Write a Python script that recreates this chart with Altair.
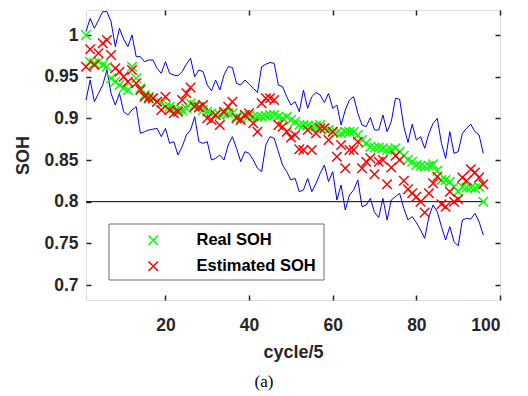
import altair as alt
import pandas as pd

# ---------------- data ----------------
cycles = list(range(1, 97))

upper_bound = [
    1.004, 1.020, 1.008, 1.018, 1.028, 1.028, 1.016, 0.986, 1.008, 0.995,
    0.986, 1.000, 0.974, 0.974, 0.968, 0.970, 0.970, 0.960, 0.954, 0.968,
    0.954, 0.952, 0.951, 0.956, 0.965, 0.972, 0.950, 0.958, 0.956, 0.940,
    0.933, 0.946, 0.934, 0.952, 0.962, 0.961, 0.942, 0.940, 0.946, 0.941,
    0.936, 0.931, 0.962, 0.965, 0.967, 0.966, 0.940, 0.938, 0.926, 0.916,
    0.920, 0.908, 0.934, 0.912, 0.926, 0.931, 0.928, 0.919, 0.930, 0.912,
    0.916, 0.892, 0.910, 0.922, 0.926, 0.906, 0.892, 0.890, 0.901, 0.886,
    0.886, 0.904, 0.884, 0.896, 0.924, 0.923, 0.890, 0.871, 0.893, 0.874,
    0.878, 0.864, 0.882, 0.894, 0.900, 0.870, 0.852, 0.884, 0.858, 0.860,
    0.882, 0.888, 0.893, 0.884, 0.880, 0.858,
]

lower_bound = [
    0.922, 0.946, 0.920, 0.930, 0.940, 0.958, 0.930, 0.916, 0.930, 0.908,
    0.904, 0.910, 0.914, 0.882, 0.884, 0.886, 0.887, 0.888, 0.878, 0.888,
    0.870, 0.872, 0.856, 0.866, 0.880, 0.886, 0.902, 0.872, 0.870, 0.872,
    0.850, 0.852, 0.856, 0.850, 0.868, 0.878, 0.864, 0.848, 0.860, 0.858,
    0.850, 0.840, 0.836, 0.868, 0.878, 0.876, 0.860, 0.844, 0.836, 0.826,
    0.828, 0.812, 0.814, 0.828, 0.812, 0.822, 0.834, 0.844, 0.824, 0.836,
    0.802, 0.820, 0.790, 0.808, 0.814, 0.826, 0.794, 0.796, 0.804, 0.787,
    0.781, 0.804, 0.778, 0.802, 0.806, 0.810, 0.792, 0.778, 0.782, 0.775,
    0.766, 0.756, 0.782, 0.796, 0.788, 0.770, 0.754, 0.770, 0.752, 0.747,
    0.778, 0.780, 0.779, 0.786, 0.776, 0.760,
]

real_soh = [
    1.000, 0.968, 0.966, 0.968, 0.964, 0.962, 0.948, 0.944, 0.940, 0.936,
    0.934, 0.962, 0.948, 0.936, 0.928, 0.926, 0.924, 0.920, 0.918, 0.914,
    0.914, 0.912, 0.910, 0.910, 0.912, 0.918, 0.916, 0.914, 0.910, 0.908,
    0.906, 0.904, 0.904, 0.906, 0.906, 0.906, 0.902, 0.900, 0.904, 0.903,
    0.902, 0.902, 0.902, 0.903, 0.904, 0.904, 0.902, 0.900, 0.902, 0.898,
    0.896, 0.892, 0.892, 0.891, 0.890, 0.891, 0.892, 0.888, 0.886, 0.884,
    0.883, 0.882, 0.884, 0.884, 0.884, 0.880, 0.874, 0.870, 0.866, 0.865,
    0.865, 0.864, 0.862, 0.862, 0.864, 0.860, 0.855, 0.850, 0.848, 0.844,
    0.843, 0.842, 0.843, 0.845, 0.837, 0.826, 0.826, 0.824, 0.818, 0.812,
    0.818, 0.817, 0.817, 0.816, 0.818, 0.800,
]

est_soh = [
    0.962, 0.983, 0.964, 0.978, 0.990, 0.994, 0.976, 0.960, 0.956, 0.950,
    0.944, 0.958, 0.942, 0.934, 0.926, 0.924, 0.924, 0.920, 0.910, 0.926,
    0.910, 0.906, 0.908, 0.922, 0.930, 0.937, 0.914, 0.913, 0.916, 0.900,
    0.898, 0.904, 0.892, 0.908, 0.914, 0.920, 0.900, 0.898, 0.904, 0.906,
    0.894, 0.884, 0.918, 0.924, 0.924, 0.922, 0.892, 0.890, 0.884, 0.877,
    0.880, 0.863, 0.862, 0.886, 0.862, 0.882, 0.888, 0.888, 0.874, 0.884,
    0.854, 0.868, 0.840, 0.862, 0.862, 0.872, 0.840, 0.848, 0.852, 0.833,
    0.848, 0.850, 0.821, 0.841, 0.855, 0.850, 0.825, 0.815, 0.810, 0.806,
    0.800, 0.787, 0.810, 0.822, 0.830, 0.797, 0.794, 0.812, 0.800, 0.803,
    0.829, 0.825, 0.839, 0.835, 0.829, 0.821,
]

threshold = 0.8
x_ticks = [20, 40, 60, 80, 100]
y_ticks = [0.7, 0.75, 0.8, 0.85, 0.9, 0.95, 1.0]
series_names = ["Real SOH", "Estimated SOH"]
series_colors = ["#00ff00", "#ff0000"]

# ---------------- tables ----------------
bounds_df = pd.DataFrame({"cycle": cycles, "upper": upper_bound, "lower": lower_bound})
points_df = pd.concat([
    pd.DataFrame({"cycle": cycles, "soh": real_soh, "series": series_names[0]}),
    pd.DataFrame({"cycle": cycles, "soh": est_soh, "series": series_names[1]}),
], ignore_index=True)
thr_df = pd.DataFrame({"x": [cycles[0]], "x2": [cycles[-1]], "y": [threshold]})

# ---------------- styling ----------------
W, H = 414, 290
FONT = "Liberation Sans"
AX = "#262626"
XMARK = "M-1,-1L1,1M1,-1L-1,1"

xs = alt.Scale(domain=[1, 100], nice=False, zero=False)
ys = alt.Scale(domain=[0.682, 1.03], nice=False, zero=False)

x_main = alt.Axis(orient="bottom", values=x_ticks, format="d", title="cycle/5",
                  ticks=False, tickSize=0, domain=False, grid=False,
                  labelFont=FONT, labelFontSize=17.5, labelFontWeight="bold",
                  labelColor=AX, labelPadding=16,
                  titleFont=FONT, titleFontSize=18, titleFontWeight="bold",
                  titleColor=AX, titlePadding=10)
y_main = alt.Axis(orient="left", values=y_ticks, format="~g", title="SOH",
                  ticks=False, tickSize=0, domain=False, grid=False,
                  labelFont=FONT, labelFontSize=17.5, labelFontWeight="bold",
                  labelColor=AX, labelPadding=8,
                  titleFont=FONT, titleFontSize=18, titleFontWeight="bold",
                  titleColor=AX, titlePadding=11)


def tick_axis(orient, values, offset):
    return alt.Axis(orient=orient, offset=offset, values=values, labels=False,
                    ticks=True, tickSize=5, tickWidth=1.5, tickColor=AX,
                    domain=False, grid=False, title=None)


upper_line = alt.Chart(bounds_df).mark_line(color="#0000ff", strokeWidth=1).encode(
    x=alt.X("cycle:Q", scale=xs, axis=x_main),
    y=alt.Y("upper:Q", scale=ys, axis=y_main),
)

lower_line = alt.Chart(bounds_df).mark_line(color="#0000ff", strokeWidth=1).encode(
    x=alt.X("cycle:Q", scale=xs, axis=tick_axis("top", x_ticks, -H)),
    y=alt.Y("lower:Q", scale=ys, axis=tick_axis("right", y_ticks, -W)),
)

thr_rule = alt.Chart(thr_df).mark_rule(color="black", strokeWidth=1).encode(
    x=alt.X("x:Q", scale=xs, axis=None),
    x2="x2:Q",
    y=alt.Y("y:Q", scale=ys, axis=None),
)

legend_box = alt.Chart(pd.DataFrame({"k": [0]})).mark_rect(
    fill="white", stroke="#6e6e6e", strokeWidth=1
).encode(x=alt.value(23), x2=alt.value(238), y=alt.value(214), y2=alt.value(270))

points = alt.Chart(points_df).mark_point(
    shape=XMARK, size=90, strokeWidth=1.5, filled=False, opacity=1
).encode(
    x=alt.X("cycle:Q", scale=xs, axis=tick_axis("bottom", x_ticks, -H)),
    y=alt.Y("soh:Q", scale=ys, axis=tick_axis("left", y_ticks, -W)),
    color=alt.Color(
        "series:N",
        scale=alt.Scale(domain=series_names, range=series_colors),
        legend=alt.Legend(
            orient="none", legendX=59, legendY=222, title=None,
            labelFont=FONT, labelFontSize=16.5, labelFontWeight="bold",
            labelColor="black", symbolType=XMARK, symbolSize=90,
            symbolStrokeWidth=1.5, rowPadding=9, labelOffset=35,
            padding=0, symbolOffset=0,
        ),
    ),
    order=alt.Order("series:N", sort="descending"),
)

chart = alt.layer(
    upper_line, lower_line, thr_rule, legend_box, points
).resolve_axis(
    x="independent", y="independent"
).properties(
    width=W, height=H,
    padding={"left": 86, "top": 10, "right": 28, "bottom": 96},
    autosize=alt.AutoSizeParams(type="none"),
    title=alt.TitleParams("(a)", orient="bottom", anchor="middle",
                          font="Liberation Serif", fontSize=17,
                          fontWeight="normal", color="black",
                          dx=-29, offset=12),
).configure_view(
    stroke=AX, strokeWidth=2
).configure(background="white")

chart.save("out.html", embed_options={"renderer": "svg", "actions": False})
